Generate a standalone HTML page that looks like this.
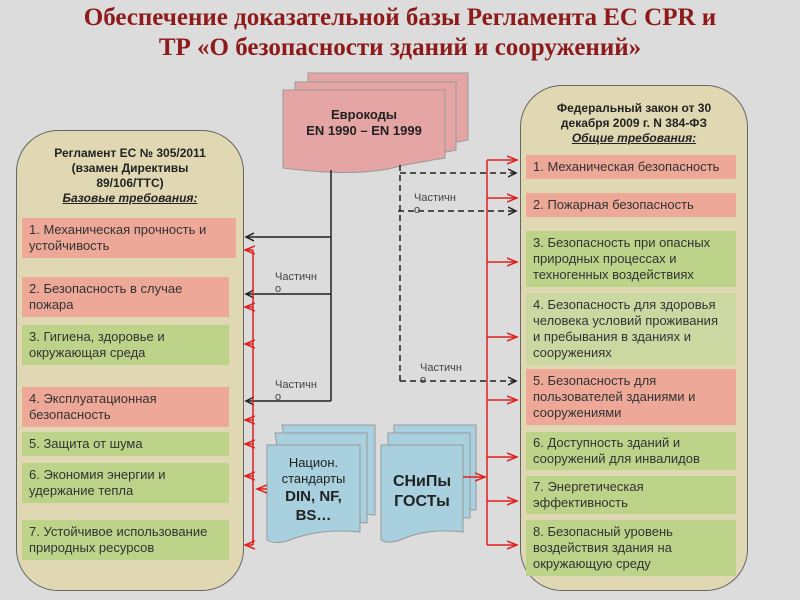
<!DOCTYPE html>
<html><head><meta charset="utf-8"><style>
body{margin:0;width:800px;height:600px;background:#dcdcdc;position:relative;overflow:hidden;font-family:"Liberation Sans","Noto Sans CJK SC",sans-serif}
.t{position:absolute;left:0;width:800px;text-align:center;font-family:"Liberation Serif","Noto Serif CJK SC",serif;font-weight:bold;color:#8e1a1a;font-size:25px;line-height:30px}
.panel{position:absolute;background:#e0d8b2;border:1.5px solid #666;border-radius:42px}
.b{position:absolute;font-size:13px;line-height:16px;color:#333;padding:0 22px 0 7px;box-sizing:border-box;display:flex;align-items:center}
.r{background:#eda898}.g{background:#bdd38a}.lg{background:#ccd8a2}
.h{position:absolute;text-align:center;font-weight:bold;font-size:12px;line-height:15px;color:#222}
.lbl{position:absolute;font-size:11px;color:#444;line-height:12px}
</style></head><body>
<div class="t" style="top:3px">Обеспечение доказательной базы Регламента ЕС CPR и</div>
<div class="t" style="top:33px">ТР «О безопасности зданий и сооружений»</div>

<div class="panel" style="left:16px;top:130px;width:226px;height:459px"></div>
<div class="h" style="left:20px;top:146px;width:220px">Регламент ЕС № 305/2011<br>(взамен Директивы<br>89/106/ТТС)<br><i style="text-decoration:underline">Базовые требования:</i></div>
<div class="b r" style="left:22px;top:218px;width:214px;height:40px">1. Механическая прочность и устойчивость</div>
<div class="b r" style="left:22px;top:277px;width:207px;height:40px">2. Безопасность в случае пожара</div>
<div class="b g" style="left:22px;top:325px;width:207px;height:40px">3. Гигиена, здоровье и окружающая среда</div>
<div class="b r" style="left:22px;top:387px;width:207px;height:40px">4. Эксплуатационная безопасность</div>
<div class="b g" style="left:22px;top:432px;width:207px;height:24px">5. Защита от шума</div>
<div class="b g" style="left:22px;top:463px;width:207px;height:40px">6. Экономия энергии и удержание тепла</div>
<div class="b g" style="left:22px;top:520px;width:207px;height:40px;padding-right:0">7. Устойчивое использование природных ресурсов</div>

<div class="panel" style="left:520px;top:85px;width:226px;height:504px"></div>
<div class="h" style="left:524px;top:101px;width:220px">Федеральный закон от 30<br>декабря 2009 г. N 384-ФЗ<br><i style="text-decoration:underline">Общие требования:</i></div>
<div class="b r" style="left:526px;top:155px;width:210px;height:24px;padding-right:2px">1. Механическая безопасность</div>
<div class="b r" style="left:526px;top:193px;width:210px;height:24px">2. Пожарная безопасность</div>
<div class="b g" style="left:526px;top:231px;width:210px;height:56px;padding-right:10px">3. Безопасность при опасных природных процессах и техногенных воздействиях</div>
<div class="b lg" style="left:526px;top:293px;width:210px;height:72px;padding-right:14px">4. Безопасность для здоровья человека условий проживания и пребывания в зданиях и сооружениях</div>
<div class="b r" style="left:526px;top:369px;width:210px;height:56px;padding-right:14px">5. Безопасность для пользователей зданиями и сооружениями</div>
<div class="b g" style="left:526px;top:432px;width:210px;height:38px;padding-right:14px">6. Доступность зданий и сооружений для инвалидов</div>
<div class="b g" style="left:526px;top:476px;width:210px;height:38px;padding-right:40px">7. Энергетическая эффективность</div>
<div class="b g" style="left:526px;top:520px;width:210px;height:56px;padding-right:30px">8. Безопасный уровень воздействия здания на окружающую среду</div>

<svg width="800" height="600" style="position:absolute;left:0;top:0">
<defs>
<marker id="ak" markerWidth="10" markerHeight="10" refX="8" refY="5" orient="auto" markerUnits="userSpaceOnUse"><path d="M0,1 L8,5 L0,9" fill="none" stroke="#222" stroke-width="1.5"/></marker>
<marker id="ar" markerWidth="12" markerHeight="10" refX="10" refY="5" orient="auto" markerUnits="userSpaceOnUse"><path d="M0,1 L10,5 L0,9" fill="none" stroke="#e02020" stroke-width="1.5"/></marker>
</defs>
<g stroke="#999" stroke-width="1">
<path d="M308,73 H468 V140 Q440,145 420,150 Q390,158 308,150 Z" fill="#e6a5a5"/>
<path d="M295,82 H456 V150 Q430,155 410,160 Q380,168 295,160 Z" fill="#e6a5a5"/>
<path d="M283,90 H445 V158 Q420,162 400,166 Q360,178 283,168 Z" fill="#e6a5a5"/>
<path d="M282,425 H375 V515 Q340,512 300,520 Z" fill="#a8d0de"/>
<path d="M275,433 H367 V523 Q330,520 290,528 Z" fill="#a8d0de"/>
<path d="M267,445 H360 V532 Q320,528 290,540 Q275,545 267,540 Z" fill="#a8d0de"/>
<path d="M394,425 H476 V510 Q450,508 394,520 Z" fill="#a8d0de"/>
<path d="M388,433 H470 V518 Q440,516 388,528 Z" fill="#a8d0de"/>
<path d="M381,445 H463 V532 Q430,528 405,538 Q390,545 381,540 Z" fill="#a8d0de"/>
</g>
<g stroke="#222" stroke-width="1.5" fill="none">
<path d="M331,170 V401"/>
<path d="M331,237 H246" marker-end="url(#ak)"/>
<path d="M331,294 H246" marker-end="url(#ak)"/>
<path d="M331,401 H246" marker-end="url(#ak)"/>
<g stroke-dasharray="6,4">
<path d="M400,165 V381"/>
<path d="M400,173 H516" marker-end="url(#ak)"/>
<path d="M398,211 H516" marker-end="url(#ak)"/>
<path d="M400,381 H516" marker-end="url(#ak)"/>
</g>
</g>
<g stroke="#e02020" stroke-width="1.5" fill="none">
<path d="M253,250 V545"/>
<path d="M253,250 H245" marker-end="url(#ar)"/>
<path d="M253,307 H245" marker-end="url(#ar)"/>
<path d="M253,344 H245" marker-end="url(#ar)"/>
<path d="M253,420 H245" marker-end="url(#ar)"/>
<path d="M253,444 H245" marker-end="url(#ar)"/>
<path d="M253,476 H245" marker-end="url(#ar)"/>
<path d="M253,545 H245" marker-end="url(#ar)"/>
<path d="M267,489 H257" marker-end="url(#ar)"/>
<path d="M487,160 V545"/>
<path d="M487,160 H517" marker-end="url(#ar)"/>
<path d="M487,198 H517" marker-end="url(#ar)"/>
<path d="M487,262 H517" marker-end="url(#ar)"/>
<path d="M487,337 H517" marker-end="url(#ar)"/>
<path d="M487,400 H517" marker-end="url(#ar)"/>
<path d="M487,457 H517" marker-end="url(#ar)"/>
<path d="M487,501 H517" marker-end="url(#ar)"/>
<path d="M487,545 H517" marker-end="url(#ar)"/>
<path d="M463,477 H485" marker-end="url(#ar)"/>
</g>
</svg>

<div class="h" style="left:283px;top:107px;width:162px;font-size:13px;line-height:16px">Еврокоды<br>EN 1990 – EN 1999</div>
<div style="position:absolute;left:267px;top:455px;width:93px;text-align:center;font-size:13px;line-height:16px;color:#222">Национ.<br>стандарты<br><b style="font-size:15px;line-height:19px">DIN, NF,<br>BS…</b></div>
<div style="position:absolute;left:381px;top:472px;width:82px;text-align:center;font-size:16px;line-height:20px;font-weight:bold;color:#222">СНиПы<br>ГОСТы</div>

<div class="lbl" style="left:275px;top:271px">Частичн<br>о</div>
<div class="lbl" style="left:275px;top:379px">Частичн<br>о</div>
<div class="lbl" style="left:414px;top:192px">Частичн<br>о</div>
<div class="lbl" style="left:420px;top:362px">Частичн<br>о</div>
</body></html>
